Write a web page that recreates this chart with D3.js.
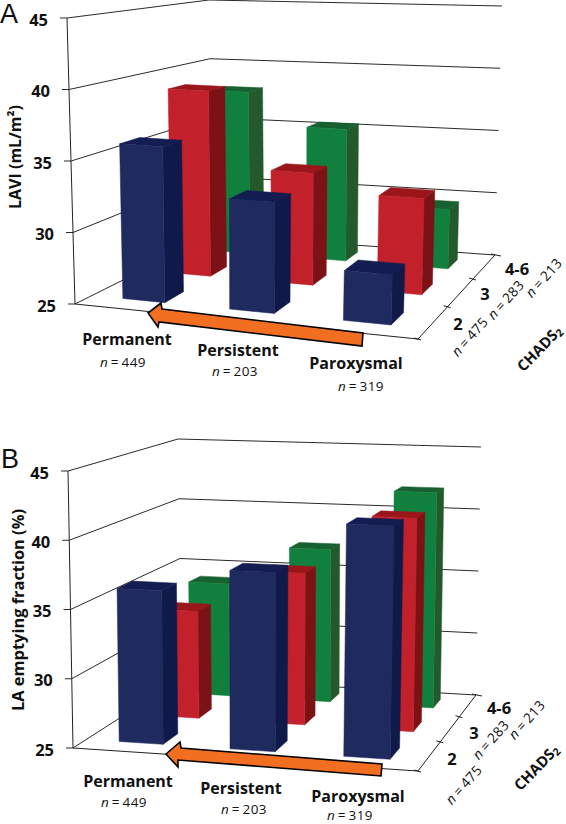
<!DOCTYPE html>
<html><head><meta charset="utf-8">
<script src="https://cdnjs.cloudflare.com/ajax/libs/d3/7.8.5/d3.min.js"></script>
<style>
html,body{margin:0;padding:0;background:#fff}
svg{display:block}
text{font-family:"Open Sans",Lato,sans-serif;fill:#111}
</style></head><body>
<svg id="chart" width="566" height="824"></svg>
<script>
const categories = ["Permanent","Persistent","Paroxysmal"];
const categoryN = [449,203,319];
const rows = ["2","3","4-6"];
const rowN = [475,283,213];
const valueTicks = [25,30,35,40,45];
const seriesColors = [
  {front:"#1f2a5f",side:"#0f1a4a",top:"#141d52"},
  {front:"#c2202b",side:"#7c1216",top:"#9b161b"},
  {front:"#11803f",side:"#245a2b",top:"#17602f"}
];
// values by row, in category order
const laviRow2 = [36.0,32.7,28.4];
const laviRow3 = [39.0,33.3,32.0];
const laviRow46 = [38.0,35.4,29.6];
const emptyRow2 = [36.2,37.9,41.6];
const emptyRow3 = [33.2,36.5,41.0];
const emptyRow46 = [34.0,37.1,41.9];

const panels = [
 {letter:"A",letterPos:[0,23],values:[laviRow2,laviRow3,laviRow46],
  yTitle:"LAVI (mL/m²)",yTitlePos:[15,157],yTitleSize:16,
  floor:{fl:[75,304],fr:[418,339],bl:[213,235],br:[495,255]},
  roof:{fl:[67,18],fr:[428,36],bl:[209,0],br:[502,6]},
  xWarp:1.1,
  catPos:[[127,339],[238,350],[356,363]],catNPos:[[123,362],[235,371],[361,386]],
  rowPos:[[458,323],[485,293],[517,268]],rowNPos:[[469,336],[505,299],[543,277]],
  chadsPos:[539,348],
  arrow:[[148,313],[161,303],[162,309],[363,333],[362,346],[159,322],[158,327]]},
 {letter:"B",letterPos:[1,468],values:[emptyRow2,emptyRow3,emptyRow46],
  yTitle:"LA emptying fraction (%)",yTitlePos:[17,610],yTitleSize:16.4,
  floor:{fl:[73,748],fr:[418,771],bl:[182,678],br:[476,695]},
  roof:{fl:[68,471],fr:[424,484],bl:[178,439],br:[481,447]},
  xWarp:1.04,
  catPos:[[128,781],[241,788],[358,796]],catNPos:[[124,802],[244,809],[350,814.5]],
  rowPos:[[452,758],[474,732],[499,707]],rowNPos:[[463,784],[490,739],[526,719]],
  chadsPos:[536,767],
  arrow:[[166,754],[180,742],[181,748],[382,764],[381,776],[178,760],[178,767]]}
];

const svg = d3.select("#chart");
const lerp = (a,b,t)=>[a[0]+(b[0]-a[0])*t,a[1]+(b[1]-a[1])*t];
const warp = (w,k) => w/(w+k*(1-w));   // perspective along an axis
const yScale = d3.scaleLinear().domain([25,45]).range([0,1]);

function nText(sel,n){
  sel.attr("letter-spacing",0.4);
  sel.append("tspan").attr("font-style","italic").text("n");
  sel.append("tspan").text("\u2009=\u2009"+n);
}

panels.forEach(p=>{
  const g = svg.append("g");
  const project = (x,w,val)=>{
    const u = warp(x,p.xWarp), v = warp(w,0.8), t = yScale(val);
    const bottom = lerp(lerp(p.floor.fl,p.floor.fr,u),lerp(p.floor.bl,p.floor.br,u),v);
    const top = lerp(lerp(p.roof.fl,p.roof.fr,u),lerp(p.roof.bl,p.roof.br,u),v);
    return lerp(bottom,top,t);
  };
  const xBand = d3.scaleBand().domain(categories).range([0,1]).paddingInner(0.6).paddingOuter(0.3);
  const zBand = d3.scaleBand().domain(rows).range([0,1]).paddingInner(0.61).paddingOuter(0.305);
  const line = d3.line();
  const base = valueTicks[0];

  // gridlines on the back walls
  g.selectAll("path.grid").data(valueTicks).join("path").attr("class","grid")
    .attr("d",d=>line([[project(0,0,d)[0]-7,project(0,0,d)[1]],project(0,0,d),project(0,1,d),project(1,1,d)]))
    .attr("fill","none").attr("stroke","#2a2a2a").attr("stroke-width",1);
  // value axis and floor edges
  g.append("path").attr("d",line([project(0,0,45),project(0,0,25)])).attr("fill","none").attr("stroke","#222");
  g.append("path").attr("d",line([project(0,0,base),project(1,0,base),project(1,1,base)])).attr("fill","none").attr("stroke","#222");
  // depth ticks
  [0,1/3,2/3,1].forEach(w=>{
    const a = project(1,w,base);
    g.append("path").attr("d",line([[a[0]-4,a[1]-1],[a[0]+(w===1?6:3),a[1]+1]])).attr("fill","none").attr("stroke","#222");
  });

  // bars, back row first
  d3.range(rows.length-1,-1,-1).forEach(r=>{
    const z0 = zBand(rows[r]), z1 = z0+zBand.bandwidth(), c = seriesColors[r];
    categories.forEach((cat,i)=>{
      const val = p.values[r][i], x0 = xBand(cat), x1 = x0+xBand.bandwidth();
      const faces = [
        [c.side,[project(x1,z0,base),project(x1,z1,base),project(x1,z1,val),project(x1,z0,val)]],
        [c.top,[project(x0,z0,val),project(x1,z0,val),project(x1,z1,val),project(x0,z1,val)]],
        [c.front,[project(x0,z0,base),project(x1,z0,base),project(x1,z0,val),project(x0,z0,val)]]
      ];
      g.append("g").selectAll("path").data(faces).join("path")
        .attr("d",d=>line(d[1])+"Z").attr("fill",d=>d[0]).attr("stroke",d=>d[0]).attr("stroke-width",0.5);
    });
  });

  // arrow
  g.append("path").attr("d",line(p.arrow)+"Z").attr("fill","#f26f21").attr("stroke","#000").attr("stroke-width",1.6).attr("stroke-linejoin","miter");

  // texts
  g.append("text").attr("x",p.letterPos[0]).attr("y",p.letterPos[1]).attr("font-size",27)
    .style("font-family","'Liberation Sans',sans-serif").text(p.letter);
  g.selectAll("text.tick").data(valueTicks).join("text").attr("class","tick")
    .attr("x",d=>project(0,0,d)[0]-19).attr("y",d=>project(0,0,d)[1]+1)
    .attr("text-anchor","end").attr("dominant-baseline","central")
    .attr("font-size",16.5).attr("font-weight",700).text(d=>d);
  const centered = (pos,size,weight,rot)=>g.append("text")
    .attr("transform",`translate(${pos[0]},${pos[1]})`+(rot?` rotate(${rot})`:""))
    .attr("text-anchor","middle").attr("dominant-baseline","central")
    .attr("font-size",size).attr("font-weight",weight);
  centered(p.yTitlePos,p.yTitleSize,700,-90).text(p.yTitle);
  categories.forEach((c,i)=>{
    centered(p.catPos[i],16,700).text(c);
    nText(centered(p.catNPos[i],13.5,400),categoryN[i]);
  });
  rows.forEach((c,i)=>{
    centered(p.rowPos[i],16.5,700).text(c);
    nText(centered(p.rowNPos[i],13.8,400,-48),rowN[i]);
  });
  const ch = centered(p.chadsPos,15,700,-46);
  ch.append("tspan").text("CHADS");
  ch.append("tspan").attr("font-size",10.5).attr("dy",4).text("2");
});
</script>
</body></html>
